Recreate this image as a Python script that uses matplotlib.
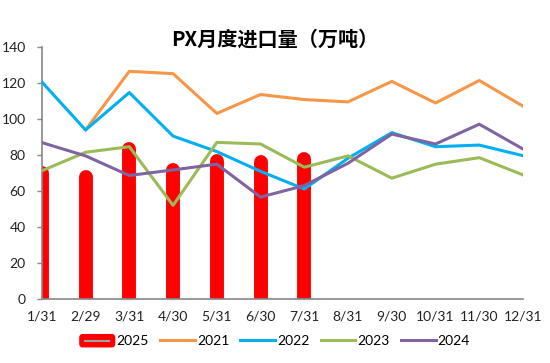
import matplotlib
matplotlib.use("Agg")
import matplotlib.pyplot as plt
import matplotlib.transforms as mtransforms
from matplotlib.lines import Line2D
from matplotlib.patches import FancyBboxPatch, Patch
from matplotlib.legend_handler import HandlerBase
import numpy as np

plt.rcParams['font.family'] = ['Lato', 'Noto Sans CJK SC', 'DejaVu Sans']

# -----------------------------
# Data
# -----------------------------
months = ["1/31", "2/29", "3/31", "4/30", "5/31", "6/30",
          "7/31", "8/31", "9/30", "10/31", "11/30", "12/31"]
y2025 = [73.7, 71.8, 87.5, 75.5, 80.7, 79.8, 81.6]
y2021 = [np.nan, 94.0, 126.6, 125.3, 103.2, 113.7, 110.9, 109.6, 121.0, 109.0, 121.5, 107.2]
y2022 = [120.7, 94.0, 114.8, 90.6, 82.0, 71.0, 61.2, 78.3, 92.5, 84.7, 85.6, 79.7]
y2023 = [71.3, 81.6, 84.7, 52.1, 87.1, 86.2, 73.3, 79.6, 67.2, 75.0, 78.6, 69.0]
y2024 = [87.0, 79.6, 68.7, 71.8, 75.0, 56.7, 63.1, 75.5, 91.7, 86.2, 97.2, 83.4]

BAR_LW = 10  # points
RED = "#ff0000"


class RoundBoxHandler(HandlerBase):
    """Legend key for 2025: red rounded box with a grey line inside."""
    def create_artists(self, legend, orig_handle, xdescent, ydescent,
                       width, height, fontsize, trans):
        h = height * 1.05
        y0 = -ydescent + (height - h) / 2
        box = FancyBboxPatch((-xdescent, y0), width, h,
                             boxstyle="round,pad=0,rounding_size=2",
                             facecolor=RED, edgecolor=RED, transform=trans)
        ym = -ydescent + height / 2
        line = Line2D([-xdescent + width * 0.15, -xdescent + width * 0.85], [ym, ym],
                      color="#a0a0a0", lw=1.5, transform=trans)
        return [box, line]


fig = plt.figure(figsize=(5.5, 3.63), dpi=100)
ax = fig.add_axes([0.076, 0.176, 0.875, 0.694])

x = np.arange(len(months))

# 2025 bars: thick round-capped lines, shifted so the cap top sits at the value
shift = mtransforms.ScaledTranslation(0, -BAR_LW / 2 / 72, fig.dpi_scale_trans)
ax.vlines(x[:len(y2025)], -20, y2025, colors=RED, linewidth=BAR_LW,
          capstyle="round", transform=ax.transData + shift, zorder=2)

ax.plot(x, y2021, color="#f79646", lw=2.2, zorder=3)
ax.plot(x, y2022, color="#00b0f0", lw=2.2, zorder=3)
ax.plot(x, y2023, color="#9bbb59", lw=2.2, zorder=3)
ax.plot(x, y2024, color="#8064a2", lw=2.2, zorder=3)

ax.set_xlim(0, len(months) - 1)
ax.set_ylim(0, 140)
ax.set_yticks(range(0, 141, 20))
ax.set_xticks(x)
ax.set_xticklabels(months)
ax.tick_params(axis="x", length=0, pad=8, labelsize=10, colors="#222222")
ax.tick_params(axis="y", length=3.5, width=1, colors="#888888", labelcolor="#222222",
               labelsize=10, pad=8)

for s in ["top", "right"]:
    ax.spines[s].set_visible(False)
for s in ["left", "bottom"]:
    ax.spines[s].set_color("#888888")
    ax.spines[s].set_linewidth(1.2)

fig.text(0.5, 0.893, "PX月度进口量（万吨）", ha="center", va="center",
         fontsize=14.5, fontweight="bold", family=["Noto Sans CJK SC", "DejaVu Sans"])

handles = [
    Patch(color=RED),
    Line2D([], [], color="#f79646", lw=2.2),
    Line2D([], [], color="#00b0f0", lw=2.2),
    Line2D([], [], color="#9bbb59", lw=2.2),
    Line2D([], [], color="#8064a2", lw=2.2),
]
labels = ["2025", "2021", "2022", "2023", "2024"]
fig.legend(handles, labels, loc="center", bbox_to_anchor=(0.5, 0.06), ncol=5,
           frameon=False, fontsize=10, handlelength=2.5, handleheight=0.9,
           handletextpad=0.15, columnspacing=0.8, borderaxespad=0,
           handler_map={Patch: RoundBoxHandler()})

fig.savefig("out.png", dpi=100)
